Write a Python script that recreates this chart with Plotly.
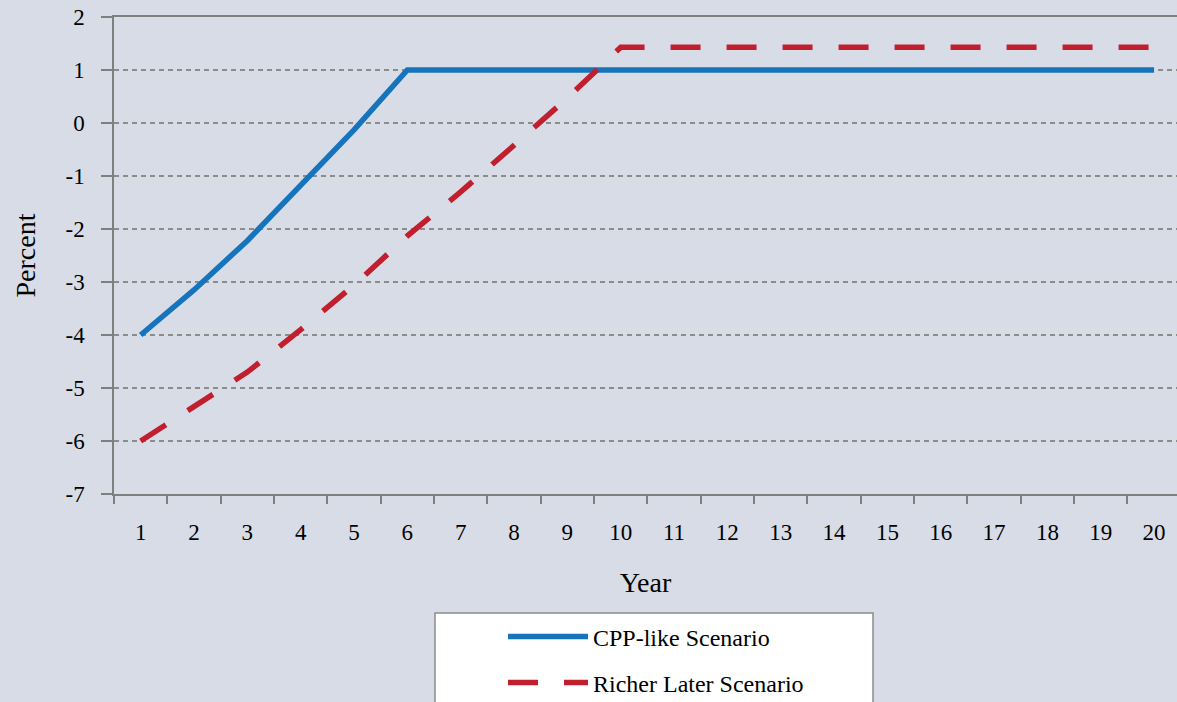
import plotly.graph_objects as go

years = [str(i) for i in range(1, 21)]
cpp_like = [-4.0, -3.15, -2.22, -1.18, -0.13, 1.0, 1.0, 1.0, 1.0, 1.0,
            1.0, 1.0, 1.0, 1.0, 1.0, 1.0, 1.0, 1.0, 1.0, 1.0]
richer_later = [-6.0, -5.36, -4.70, -3.90, -3.06, -2.13, -1.30, -0.42, 0.47, 1.43,
                1.43, 1.43, 1.43, 1.43, 1.43, 1.43, 1.43, 1.43, 1.43, 1.43]
y_tickvals = [-7, -6, -5, -4, -3, -2, -1, 0, 1, 2]
y_ticktext = ["-7", "-6", "-5", "-4", "-3", "-2", "-1", "0", "1", "2"]

BG = "#D8DCE6"
BLUE = "#1574BC"
RED = "#C11F2E"
AXIS = "#7F7F7F"
FONT = "Liberation Serif"
W, H = 1177, 702
ML, MR, MT, MB = 114, 0, 17, 208
PW, PH = W - ML - MR, H - MT - MB

fig = go.Figure()
fig.add_trace(go.Scatter(x=years, y=cpp_like, mode="lines", name="CPP-like Scenario",
                         line=dict(color=BLUE, width=5.5), legend="legend"))
fig.add_trace(go.Scatter(x=years, y=richer_later, mode="lines", name="Richer Later Scenario",
                         line=dict(color=RED, width=5.5, dash="30px,26px"), legend="legend2"))

# legend frame
fig.add_shape(type="rect", xref="paper", yref="paper",
              x0=(435 - ML) / PW, x1=(873 - ML) / PW,
              y0=(H - MB - 613) / PH, y1=(H - MB - 715) / PH,
              line=dict(color="#8C8C8C", width=1.5), fillcolor="white", layer="above")

# y-axis title
fig.add_annotation(text="Percent", xref="paper", yref="paper",
                   x=(25 - ML) / PW, y=0.5, xanchor="center", yanchor="middle",
                   textangle=-90, showarrow=False,
                   font=dict(family=FONT, size=28, color="black"))

legend_common = dict(xref="container", yref="container", xanchor="left", yanchor="middle",
                     bgcolor="rgba(0,0,0,0)", borderwidth=0, itemwidth=80,
                     font=dict(family=FONT, size=24, color="black"))
fig.update_layout(
    width=W, height=H,
    paper_bgcolor=BG, plot_bgcolor=BG,
    margin=dict(l=ML, r=MR, t=MT, b=MB, autoexpand=False),
    font=dict(family=FONT, color="black"),
    showlegend=True,
    legend=dict(x=503 / W, y=1 - 637 / H, **legend_common),
    legend2=dict(x=503 / W, y=1 - 683 / H, **legend_common),
    xaxis=dict(
        type="category", range=[-0.5, 19.43], tickson="boundaries", tickangle=0,
        ticks="outside", ticklen=8, tickwidth=1.5, tickcolor=AXIS,
        showline=True, linecolor=AXIS, linewidth=1.5, mirror=True,
        showgrid=False, zeroline=False,
        tickfont=dict(family=FONT, size=23, color="black"), ticklabelstandoff=17,
        title=dict(text="Year", font=dict(family=FONT, size=28, color="black"), standoff=28),
    ),
    yaxis=dict(
        range=[-7, 2], tickvals=y_tickvals, ticktext=y_ticktext,
        ticks="outside", ticklen=11, tickwidth=1.5, tickcolor=AXIS,
        showline=True, linecolor=AXIS, linewidth=1.5,
        showgrid=True, gridcolor="#8C8C8C", gridwidth=1.5, griddash="5px,4px",
        zeroline=False,
        tickfont=dict(family=FONT, size=23, color="black"), ticklabelstandoff=12,
    ),
)

fig.write_html("out.html", config={"displayModeBar": False},
               post_script="document.body.style.margin='0';document.body.style.overflow='hidden';")
